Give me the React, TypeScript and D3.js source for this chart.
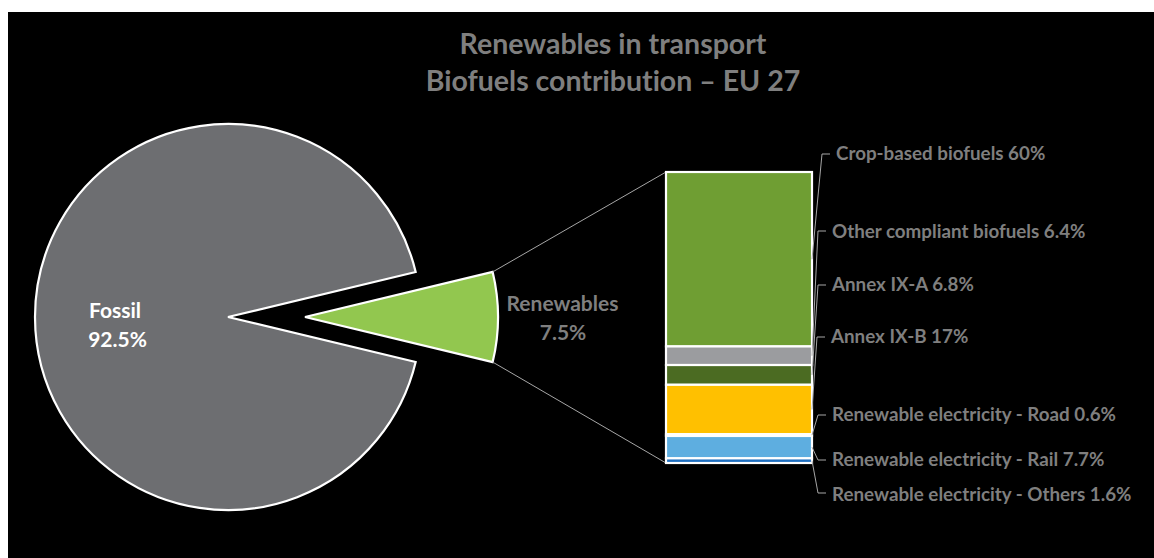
import React from "react";
import * as d3 from "d3";

// ---- data ----
const titleLines = ["Renewables in transport", "Biofuels contribution \u2013 EU 27"];
const pieLabels = ["Renewables", "Fossil"];
const pieValues = [7.5, 92.5];
const pieColors = ["#92c74f", "#6d6e71"];

const barCategories = [
  "Crop-based biofuels",
  "Other compliant biofuels",
  "Annex IX-A",
  "Annex IX-B",
  "Renewable electricity - Road",
  "Renewable electricity - Rail",
  "Renewable electricity - Others",
];
const barValues = [60, 6.4, 6.8, 17, 0.6, 7.7, 1.6];
const barValueLabels = ["60%", "6.4%", "6.8%", "17%", "0.6%", "7.7%", "1.6%"];
const barColors = ["#6f9e33", "#9b9c9f", "#4b6b22", "#ffc000", "#ffffff", "#5eaee0", "#1f6fc0"];

// ---- layout ----
const W = 1154;
const H = 558;
const cx = 228;
const cy = 317;
const R = 193;
const explode = 77;
const barX0 = 666;
const barX1 = 812;
const barY0 = 172;
const barY1 = 463;
const labelLayout = [
  { x: 836, y: 160, ty: 154 },
  { x: 832, y: 238, ty: 231 },
  { x: 832, y: 291, ty: 285 },
  { x: 831, y: 343, ty: 337 },
  { x: 832, y: 421, ty: 415 },
  { x: 832, y: 466, ty: 460 },
  { x: 832, y: 501, ty: 493 },
];

const textGrey = "#7f7f7f";
const FONT = "Lato, 'Open Sans', sans-serif";

export default function App() {
  const frac = pieValues[0] / d3.sum(pieValues);
  const start = Math.PI / 2 - frac * Math.PI;
  const pie = d3
    .pie<number>()
    .sort(null)
    .startAngle(start)
    .endAngle(start + 2 * Math.PI)(pieValues);
  const arc = d3.arc<d3.PieArcDatum<number>>().innerRadius(0).outerRadius(R);

  const renArc = pie[0];
  const cornerTop = [cx + explode + R * Math.sin(renArc.startAngle), cy - R * Math.cos(renArc.startAngle)];
  const cornerBot = [cx + explode + R * Math.sin(renArc.endAngle), cy - R * Math.cos(renArc.endAngle)];

  const total = d3.sum(barValues);
  const y = d3.scaleLinear().domain([0, total]).range([barY0, barY1]);
  const cum = d3.cumsum(barValues);
  const segs = barValues.map((v, i) => ({
    y0: y(cum[i] - v),
    y1: y(cum[i]),
    color: barColors[i],
    label: `${barCategories[i]} ${barValueLabels[i]}`,
  }));

  return (
    <svg
      width={W}
      height={H}
      style={{ position: "absolute", left: 0, top: 0, display: "block", fontVariantLigatures: "none" }}
      fontFamily={FONT}
    >
      <rect x={8} y={12} width={W - 8} height={H - 12} fill="#000" />
      {titleLines.map((t, i) => (
        <text
          key={i}
          x={613}
          y={54 + i * 37}
          textAnchor="middle"
          fontSize={28.5}
          fontWeight="bold"
          fill={textGrey}
        >
          {t}
        </text>
      ))}

      {/* pie */}
      <path
        d={arc(pie[1]) || ""}
        transform={`translate(${cx},${cy})`}
        fill={pieColors[1]}
        stroke="#fff"
        strokeWidth={2.2}
        strokeLinejoin="miter"
      />
      <path
        d={arc(pie[0]) || ""}
        transform={`translate(${cx + explode},${cy})`}
        fill={pieColors[0]}
        stroke="#fff"
        strokeWidth={2.2}
      />

      <text x={115} y={318} textAnchor="middle" fontSize={21} fontWeight="bold" fill="#fff">
        {pieLabels[1]}
      </text>
      <text x={117.5} y={347} textAnchor="middle" fontSize={21} fontWeight="bold" fill="#fff">
        {`${pieValues[1]}%`}
      </text>
      <text x={562.5} y={311} textAnchor="middle" fontSize={21} fontWeight="bold" fill={textGrey}>
        {pieLabels[0]}
      </text>
      <text x={563} y={340} textAnchor="middle" fontSize={21} fontWeight="bold" fill={textGrey}>
        {`${pieValues[0]}%`}
      </text>

      {/* connector lines */}
      <line x1={cornerTop[0]} y1={cornerTop[1]} x2={barX0} y2={barY0} stroke="#a6a6a6" strokeWidth={1} />
      <line x1={cornerBot[0]} y1={cornerBot[1]} x2={barX0} y2={barY1} stroke="#a6a6a6" strokeWidth={1} />

      {/* bar */}
      {segs.map((s, i) => (
        <rect
          key={i}
          x={barX0}
          y={s.y0}
          width={barX1 - barX0}
          height={s.y1 - s.y0}
          fill={s.color}
          stroke="#fff"
          strokeWidth={2.2}
        />
      ))}

      {/* leader lines and labels */}
      {segs.map((s, i) => {
        const L = labelLayout[i];
        const mid = (s.y0 + s.y1) / 2;
        const tx0 = L.x - 14;
        const tx1 = L.x - 6;
        return (
          <g key={i}>
            <polyline
              points={`${barX1},${mid} ${tx0},${L.ty} ${tx1},${L.ty}`}
              fill="none"
              stroke="#a6a6a6"
              strokeWidth={1}
            />
            <text x={L.x} y={L.y} fontSize={18.8} fontWeight="bold" fill={textGrey}>
              {s.label}
            </text>
          </g>
        );
      })}
    </svg>
  );
}
